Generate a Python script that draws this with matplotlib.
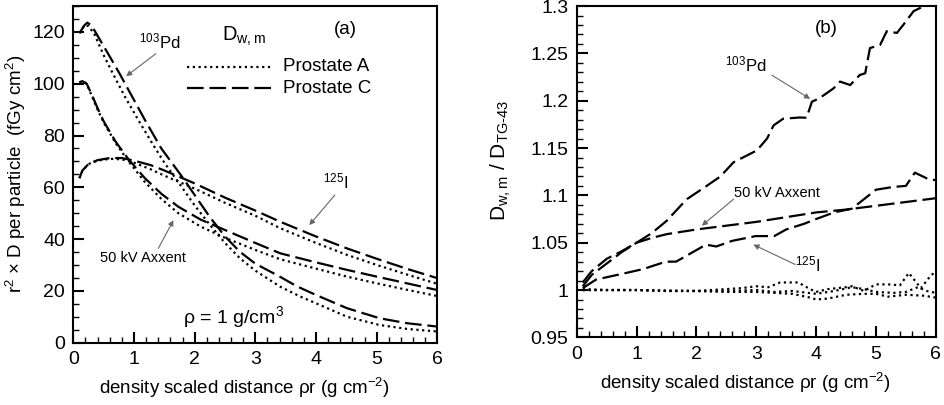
import numpy as np
import matplotlib
matplotlib.use('Agg')
import matplotlib.pyplot as plt
from matplotlib.ticker import MultipleLocator

plt.rcParams['font.family'] = ['Liberation Sans', 'DejaVu Sans']
plt.rcParams['mathtext.default'] = 'regular'

# ---- panel (a): r^2 x D per particle ----
pd_a_x = [0.1, 0.18, 0.25, 0.35, 0.5, 0.65, 0.85, 1.07, 1.3, 1.5, 1.73, 2.0, 2.25, 2.5, 2.75, 3.0, 3.41, 3.74, 4.0, 4.51, 5.05, 5.5, 6.0]
pd_a_y = [119.5, 122.5, 122.3, 119.0, 111.0, 104.0, 95.0, 86.0, 77.0, 69.5, 62.0, 53.0, 45.5, 38.5, 32.5, 27.8, 21.6, 17.8, 15.2, 10.0, 6.8, 5.3, 4.3]
pd_c_x = [0.1, 0.18, 0.23, 0.3, 0.45, 0.6, 0.76, 0.97, 1.18, 1.45, 1.81, 2.0, 2.25, 2.5, 2.75, 3.0, 3.41, 3.68, 4.0, 4.51, 5.05, 5.5, 6.0]
pd_c_y = [119.5, 122.5, 123.6, 122.5, 116.5, 110.5, 104.0, 95.0, 86.0, 75.0, 63.5, 57.0, 48.5, 41.0, 35.0, 30.5, 25.4, 21.8, 18.4, 13.3, 9.4, 7.5, 6.2]

ax_x = [0.1, 0.15, 0.22, 0.3, 0.4, 0.5, 0.7, 0.91, 1.18, 1.45, 1.73, 2.1, 2.5, 3.0, 3.41, 4.0, 4.51, 5.0, 5.5, 6.0]
ax_a_y = [100.5, 101.0, 100.0, 95.5, 90.0, 85.0, 77.0, 70.0, 62.0, 55.5, 50.0, 44.8, 40.5, 35.8, 32.2, 28.6, 25.5, 22.9, 20.4, 18.0]
ax_c_y = [100.5, 101.0, 100.0, 96.0, 90.5, 85.5, 77.5, 70.8, 63.5, 57.5, 52.5, 47.5, 43.5, 38.5, 34.5, 31.0, 28.1, 25.5, 22.9, 20.3]

i_x = [0.1, 0.15, 0.25, 0.4, 0.6, 0.8, 1.0, 1.27, 1.5, 1.75, 2.0, 2.5, 3.0, 3.41, 3.74, 4.0, 4.51, 5.0, 5.5, 6.0]
i_a_y = [63.5, 66.5, 69.0, 70.3, 71.0, 70.8, 69.5, 67.0, 64.5, 62.0, 59.5, 54.0, 49.0, 44.2, 41.0, 38.5, 33.9, 30.0, 26.3, 22.7]
i_c_y = [63.5, 66.5, 69.0, 70.5, 71.3, 71.3, 70.3, 68.6, 66.5, 64.0, 61.5, 56.0, 51.0, 46.7, 43.5, 41.0, 36.4, 32.4, 28.5, 24.9]

# ---- panel (b): D_w,m / D_TG-43 ----
pd_r_x = [0.1, 0.25, 0.5, 0.75, 1.0, 1.25, 1.5, 1.75, 1.84, 2.17, 2.4, 2.62, 3.01, 3.18, 3.29, 3.45, 3.73, 3.84, 3.93, 4.05,
          4.29, 4.4, 4.57, 4.73, 4.82, 4.9, 5.07, 5.18, 5.35, 5.46, 5.63, 5.74, 5.85]
pd_r_y = [1.008, 1.02, 1.033, 1.041, 1.05, 1.06, 1.073, 1.09, 1.096, 1.11, 1.12, 1.135, 1.1475, 1.16, 1.174, 1.181, 1.1823, 1.182, 1.199, 1.2024,
          1.213, 1.2202, 1.2166, 1.2272, 1.229, 1.2556, 1.259, 1.2734, 1.2716, 1.2804, 1.2947, 1.298, 1.31]

ax_r_x = [0.1, 0.25, 0.5, 0.75, 1.0, 1.25, 1.5, 2.0, 2.5, 3.0, 3.5, 4.0, 4.5, 5.0, 5.5, 6.0]
ax_r_y = [1.004, 1.016, 1.028, 1.04, 1.05, 1.055, 1.059, 1.064, 1.068, 1.072, 1.077, 1.082, 1.085, 1.089, 1.093, 1.097]

i_r_x = [0.1, 0.32, 0.82, 1.1, 1.49, 1.66, 2.16, 2.33, 2.6, 2.99, 3.3, 3.5, 3.8, 4.0, 4.3, 4.6, 4.8, 5.0, 5.3, 5.5, 5.65, 5.85, 6.0]
i_r_y = [1.002, 1.011, 1.018, 1.022, 1.030, 1.030, 1.048, 1.046, 1.052, 1.057, 1.057, 1.064, 1.070, 1.075, 1.082, 1.086, 1.096, 1.106, 1.109, 1.110, 1.124, 1.118, 1.116]

dot_pd_x = [0.1, 0.5, 1.0, 1.5, 2.0, 2.5, 2.75, 3.0, 3.2, 3.4, 3.7, 3.9, 4.0, 4.2, 4.5, 4.6, 4.8, 5.0, 5.2, 5.4, 5.55, 5.75, 5.9, 6.0]
dot_pd_y = [1.0, 1.0, 1.0, 0.999, 0.999, 1.001, 1.002, 1.004, 1.003, 1.008, 1.008, 1.001, 0.998, 1.001, 1.003, 1.004, 0.999, 1.006, 1.006, 1.005, 1.018, 1.002, 1.014, 1.02]
dot_i_x = [0.1, 0.5, 1.0, 1.5, 2.0, 2.5, 3.0, 3.3, 3.6, 3.9, 4.0, 4.2, 4.5, 4.8, 5.0, 5.2, 5.5, 5.8, 6.0]
dot_i_y = [1.001, 1.0, 1.0, 0.999, 0.999, 0.998, 0.998, 0.997, 0.996, 0.992, 0.990, 0.991, 0.995, 0.996, 0.996, 0.993, 0.995, 0.994, 0.992]
dot_ax_x = [0.1, 1.0, 2.0, 2.5, 3.0, 3.3, 3.6, 4.0, 4.3, 4.6, 4.8, 5.0, 5.3, 5.5, 5.7, 5.85, 6.0]
dot_ax_y = [1.0, 1.0, 0.999, 0.999, 1.0, 0.998, 0.999, 0.996, 0.999, 1.003, 1.001, 0.998, 0.997, 0.998, 1.003, 0.999, 0.997]

DOT = (0, (1, 1.6))
DASH = (0, (7.5, 2.6))
LW = 1.6
ARROW = dict(arrowstyle='-|>', color='0.4', lw=0.8, mutation_scale=8, shrinkA=0, shrinkB=0)


def style_axes(ax):
    for s in ax.spines.values():
        s.set_linewidth(1.5)
    ax.tick_params(which='both', direction='in', top=False, right=False, labelsize=14, pad=6)
    ax.tick_params(which='major', length=8, width=1.5)
    ax.tick_params(which='minor', length=4, width=1.0)
    ax.xaxis.set_major_locator(MultipleLocator(1))
    ax.xaxis.set_minor_locator(MultipleLocator(0.2))
    ax.set_xlim(0, 6)
    ax.set_xlabel('density scaled distance \u03c1r (g cm$^{-2}$)', fontsize=13.5, labelpad=5)
    ax.xaxis.set_label_coords(0.47, -0.1)


fig = plt.figure(figsize=(9.44, 4.05), dpi=100)

# panel (a)
ax1 = fig.add_axes([0.0777, 0.154, 0.3856, 0.831])
ax1.plot(pd_a_x, pd_a_y, color='black', lw=LW, linestyle=DOT)
ax1.plot(pd_c_x, pd_c_y, color='black', lw=LW, linestyle=DASH)
ax1.plot(ax_x, ax_a_y, color='black', lw=LW, linestyle=DOT)
ax1.plot(ax_x, ax_c_y, color='black', lw=LW, linestyle=DASH)
ax1.plot(i_x, i_a_y, color='black', lw=LW, linestyle=DOT)
ax1.plot(i_x, i_c_y, color='black', lw=LW, linestyle=DASH)
style_axes(ax1)
ax1.set_ylim(0, 130)
ax1.yaxis.set_major_locator(MultipleLocator(20))
ax1.yaxis.set_minor_locator(MultipleLocator(5))
ax1.set_ylabel('r$^2$ \u00d7 D per particle  (fGy cm$^2$)', fontsize=13.5, labelpad=3)

# legend drawn by hand as in the figure
ax1.plot([1.87, 3.27], [106.5, 106.5], color='black', lw=LW, linestyle=DOT)
ax1.plot([1.87, 3.27], [98.3, 98.3], color='black', lw=LW, linestyle=DASH)
ax1.text(3.46, 106.5, 'Prostate A', fontsize=13.5, va='center')
ax1.text(3.46, 98.3, 'Prostate C', fontsize=13.5, va='center')
ax1.text(2.45, 116.5, 'D$_{w,m}$', fontsize=14.5)
ax1.text(4.3, 121, '(a)', fontsize=13.5, va='center')
ax1.text(1.08, 113.5, '$^{103}$Pd', fontsize=12)
ax1.annotate('', xy=(0.87, 102.9), xytext=(1.36, 111.6), arrowprops=ARROW)
ax1.text(4.12, 59.5, '$^{125}$I', fontsize=12)
ax1.annotate('', xy=(3.89, 45.4), xytext=(4.31, 57), arrowprops=ARROW)
ax1.text(0.44, 32.5, '50 kV Axxent', fontsize=10.5, va='center')
ax1.annotate('', xy=(1.65, 47.3), xytext=(1.40, 36.4), arrowprops=ARROW)
ax1.text(1.81, 7.5, '\u03c1 = 1 g/cm$^3$', fontsize=14)

# panel (b)
ax2 = fig.add_axes([0.611, 0.167, 0.3803, 0.818])
ax2.plot(pd_r_x, pd_r_y, color='black', lw=LW, linestyle=DASH)
ax2.plot(ax_r_x, ax_r_y, color='black', lw=LW, linestyle=DASH)
ax2.plot(i_r_x, i_r_y, color='black', lw=LW, linestyle=DASH)
ax2.plot(dot_pd_x, dot_pd_y, color='black', lw=LW, linestyle=DOT)
ax2.plot(dot_i_x, dot_i_y, color='black', lw=LW, linestyle=DOT)
ax2.plot(dot_ax_x, dot_ax_y, color='black', lw=LW, linestyle=DOT)
style_axes(ax2)
ax2.set_ylim(0.95, 1.3)
ax2.set_yticks([0.95, 1.0, 1.05, 1.1, 1.15, 1.2, 1.25, 1.3])
ax2.set_yticklabels(['0.95', '1', '1.05', '1.1', '1.15', '1.2', '1.25', '1.3'])
ax2.yaxis.set_minor_locator(MultipleLocator(0.01))
ax2.set_ylabel('D$_{w,m}$ / D$_{TG\u201043}$', fontsize=15)
ax2.yaxis.set_label_coords(-0.178, 0.535)

ax2.text(3.98, 1.276, '(b)', fontsize=13.5, va='center')
ax2.text(2.48, 1.231, '$^{103}$Pd', fontsize=12)
ax2.annotate('', xy=(3.9, 1.202), xytext=(3.26, 1.227), arrowprops=ARROW)
ax2.text(2.62, 1.1025, '50 kV Axxent', fontsize=10.5, va='center')
ax2.annotate('', xy=(2.09, 1.068), xytext=(2.62, 1.096), arrowprops=ARROW)
ax2.text(3.65, 1.02, '$^{125}$I', fontsize=12)
ax2.annotate('', xy=(2.95, 1.048), xytext=(3.65, 1.027), arrowprops=ARROW)

fig.savefig('out.png', dpi=100)
